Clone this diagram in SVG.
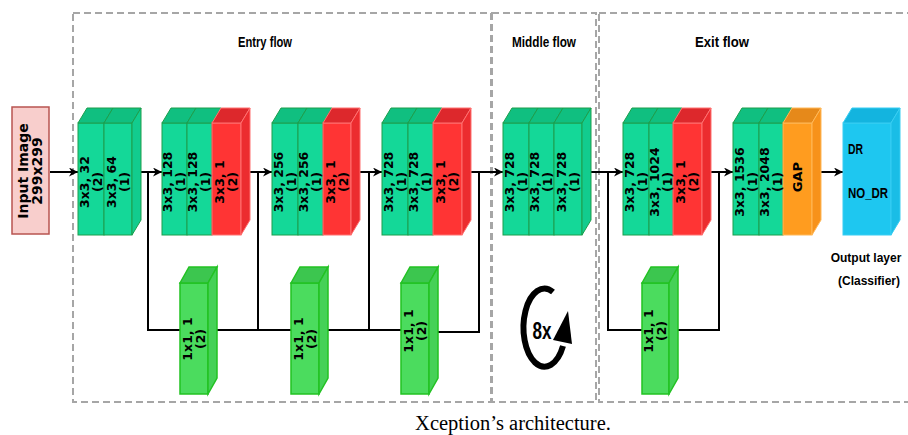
<svg xmlns="http://www.w3.org/2000/svg" width="908" height="435" viewBox="0 0 908 435">
<defs>
<marker id="ah" viewBox="0 0 10 10" refX="10" refY="5" markerWidth="9" markerHeight="9" markerUnits="userSpaceOnUse" orient="auto">
<path d="M0,0 L10,5 L0,10 L3,5 z" fill="#000"/>
</marker>
<style>
.dash{fill:none;stroke:#a6a6a6;stroke-width:2;stroke-dasharray:7 4}
.conn{fill:none;stroke:#000;stroke-width:2}
.arr{marker-end:url(#ah)}
.tf{fill:#14d898;stroke:#1d9e4c;stroke-width:1}
.tt{fill:#10bf80;stroke:#1d9e4c;stroke-width:1}
.ts{fill:#12cc8e;stroke:#1d9e4c;stroke-width:1}
.rf{fill:#ff3434;stroke:#ff7070;stroke-width:1}
.rt{fill:#dd282c;stroke:#ff7070;stroke-width:1}
.rs{fill:#ec2c2f;stroke:#ff7070;stroke-width:1}
.of{fill:#ff9c1f;stroke:#ffb858;stroke-width:1}
.ot{fill:#e6891a;stroke:#ffb858;stroke-width:1}
.os{fill:#f7921a;stroke:#ffb858;stroke-width:1}
.gf{fill:#4bdc5e;stroke:#22c222;stroke-width:1.5}
.gt{fill:#3cc64f;stroke:#22c222;stroke-width:1.5}
.gs{fill:#45d157;stroke:#22c222;stroke-width:1.5}
.cf{fill:#1ec7f0;stroke:#38cdf2;stroke-width:1}
.ct{fill:#13b4df;stroke:#38cdf2;stroke-width:1}
.cs{fill:#1abde6;stroke:#38cdf2;stroke-width:1}
.lbl{font-family:"DejaVu Sans",Verdana,sans-serif;font-weight:bold;font-size:12.5px;text-anchor:middle;fill:#000}
.nar{font-family:"Liberation Sans Narrow","Liberation Sans",Arial,sans-serif;font-weight:bold;font-size:14px;fill:#000}
.mid{text-anchor:middle}
</style>
</defs>
<rect width="908" height="435" fill="#fff"/>

<g id="frames">
<rect class="dash" x="73" y="13" width="418" height="389"/>
<rect class="dash" x="492" y="13" width="104" height="389"/>
<rect class="dash" x="599" y="13" width="330" height="389"/>
<text class="nar mid" x="265" y="47" textLength="54" lengthAdjust="spacingAndGlyphs">Entry flow</text>
<text class="nar mid" x="544" y="47" textLength="64" lengthAdjust="spacingAndGlyphs">Middle flow</text>
<text class="nar mid" x="722" y="47" textLength="54" lengthAdjust="spacingAndGlyphs">Exit flow</text>
</g>

<g id="connectors">
<path class="conn arr" d="M50,172 H78"/>
<path class="conn arr" d="M141,172 H162"/>
<path class="conn" d="M148,172 V330 H182"/>
<path class="conn" d="M217,330 H292 M258,330 V172"/>
<path class="conn arr" d="M250,172 H272"/>
<path class="conn" d="M328,330 H402 M369,330 V172"/>
<path class="conn arr" d="M360,172 H382"/>
<path class="conn" d="M438,332 H479 V172"/>
<path class="conn arr" d="M471,172 H503"/>
<path class="conn arr" d="M591,172 H623"/>
<path class="conn" d="M608,172 V330 H643"/>
<path class="conn" d="M678,330 H719 V172"/>
<path class="conn arr" d="M711,172 H733"/>
<path class="conn arr" d="M821,172 H843"/>
</g>

<g id="input">
<rect x="12" y="107" width="37" height="127" fill="#f8cecc" stroke="#b85450" stroke-width="1.5"/>
<text class="lbl" style="font-size:14px" transform="translate(29.5,171) rotate(-90)"><tspan x="0" y="-1.5">Input Image</tspan><tspan x="0" y="12.5">299x299</tspan></text>
</g>

<g id="block1">
<rect class="tf" x="78" y="123" width="26" height="112"/>
<polygon class="tt" points="78,123 87,108 113,108 104,123"/>
<rect class="tf" x="104" y="123" width="28" height="112"/>
<polygon class="tt" points="104,123 113,108 141,108 132,123"/>
<polygon class="ts" points="132,123 141,108 141,220 132,235"/>
<text class="lbl" transform="translate(91,182) rotate(-90)"><tspan x="0" y="-2.5">3x3, 32</tspan><tspan x="0" y="10.5">(2)</tspan></text>
<text class="lbl" transform="translate(118,182) rotate(-90)"><tspan x="0" y="-2.5">3x3, 64</tspan><tspan x="0" y="10.5">(1)</tspan></text>
</g>

<g id="block2">
<rect class="tf" x="162" y="123" width="25" height="112"/>
<polygon class="tt" points="162,123 171,108 196,108 187,123"/>
<rect class="tf" x="187" y="123" width="25" height="112"/>
<polygon class="tt" points="187,123 196,108 221,108 212,123"/>
<rect class="rf" x="212" y="123" width="29" height="112"/>
<polygon class="rt" points="212,123 221,108 250,108 241,123"/>
<polygon class="rs" points="241,123 250,108 250,220 241,235"/>
<text class="lbl" transform="translate(174.5,182) rotate(-90)"><tspan x="0" y="-2.5">3x3, 128</tspan><tspan x="0" y="10.5">(1)</tspan></text>
<text class="lbl" transform="translate(199.5,182) rotate(-90)"><tspan x="0" y="-2.5">3x3, 128</tspan><tspan x="0" y="10.5">(1)</tspan></text>
<text class="lbl" transform="translate(226.5,182) rotate(-90)"><tspan x="0" y="-2.5">3x3, 1</tspan><tspan x="0" y="10.5">(2)</tspan></text>
</g>

<g id="block3">
<rect class="tf" x="272" y="123" width="26" height="112"/>
<polygon class="tt" points="272,123 281,108 307,108 298,123"/>
<rect class="tf" x="298" y="123" width="25" height="112"/>
<polygon class="tt" points="298,123 307,108 332,108 323,123"/>
<rect class="rf" x="323" y="123" width="28" height="112"/>
<polygon class="rt" points="323,123 332,108 360,108 351,123"/>
<polygon class="rs" points="351,123 360,108 360,220 351,235"/>
<text class="lbl" transform="translate(285,182) rotate(-90)"><tspan x="0" y="-2.5">3x3, 256</tspan><tspan x="0" y="10.5">(1)</tspan></text>
<text class="lbl" transform="translate(310.5,182) rotate(-90)"><tspan x="0" y="-2.5">3x3, 256</tspan><tspan x="0" y="10.5">(1)</tspan></text>
<text class="lbl" transform="translate(337,182) rotate(-90)"><tspan x="0" y="-2.5">3x3, 1</tspan><tspan x="0" y="10.5">(2)</tspan></text>
</g>

<g id="block4">
<rect class="tf" x="382" y="123" width="26" height="112"/>
<polygon class="tt" points="382,123 391,108 417,108 408,123"/>
<rect class="tf" x="408" y="123" width="25" height="112"/>
<polygon class="tt" points="408,123 417,108 442,108 433,123"/>
<rect class="rf" x="433" y="123" width="29" height="112"/>
<polygon class="rt" points="433,123 442,108 471,108 462,123"/>
<polygon class="rs" points="462,123 471,108 471,220 462,235"/>
<text class="lbl" transform="translate(395,182) rotate(-90)"><tspan x="0" y="-2.5">3x3, 728</tspan><tspan x="0" y="10.5">(1)</tspan></text>
<text class="lbl" transform="translate(420.5,182) rotate(-90)"><tspan x="0" y="-2.5">3x3, 728</tspan><tspan x="0" y="10.5">(1)</tspan></text>
<text class="lbl" transform="translate(447.5,182) rotate(-90)"><tspan x="0" y="-2.5">3x3, 1</tspan><tspan x="0" y="10.5">(2)</tspan></text>
</g>

<g id="middle">
<rect class="tf" x="503" y="123" width="26" height="112"/>
<polygon class="tt" points="503,123 512,108 538,108 529,123"/>
<rect class="tf" x="529" y="123" width="25" height="112"/>
<polygon class="tt" points="529,123 538,108 563,108 554,123"/>
<rect class="tf" x="554" y="123" width="28" height="112"/>
<polygon class="tt" points="554,123 563,108 591,108 582,123"/>
<polygon class="ts" points="582,123 591,108 591,220 582,235"/>
<text class="lbl" transform="translate(516,182) rotate(-90)"><tspan x="0" y="-2.5">3x3, 728</tspan><tspan x="0" y="10.5">(1)</tspan></text>
<text class="lbl" transform="translate(541.5,182) rotate(-90)"><tspan x="0" y="-2.5">3x3, 728</tspan><tspan x="0" y="10.5">(1)</tspan></text>
<text class="lbl" transform="translate(568,182) rotate(-90)"><tspan x="0" y="-2.5">3x3, 728</tspan><tspan x="0" y="10.5">(1)</tspan></text>
</g>

<g id="exit1">
<rect class="tf" x="623" y="123" width="26" height="112"/>
<polygon class="tt" points="623,123 632,108 658,108 649,123"/>
<rect class="tf" x="649" y="123" width="24" height="112"/>
<polygon class="tt" points="649,123 658,108 682,108 673,123"/>
<rect class="rf" x="673" y="123" width="29" height="112"/>
<polygon class="rt" points="673,123 682,108 711,108 702,123"/>
<polygon class="rs" points="702,123 711,108 711,220 702,235"/>
<text class="lbl" transform="translate(636,182) rotate(-90)"><tspan x="0" y="-2.5">3x3, 728</tspan><tspan x="0" y="10.5">(1)</tspan></text>
<text class="lbl" transform="translate(661,182) rotate(-90)"><tspan x="0" y="-2.5">3x3, 1024</tspan><tspan x="0" y="10.5">(1)</tspan></text>
<text class="lbl" transform="translate(687.5,182) rotate(-90)"><tspan x="0" y="-2.5">3x3, 1</tspan><tspan x="0" y="10.5">(2)</tspan></text>
</g>

<g id="exit2">
<rect class="tf" x="733" y="123" width="26" height="112"/>
<polygon class="tt" points="733,123 742,108 768,108 759,123"/>
<rect class="tf" x="759" y="123" width="24" height="112"/>
<polygon class="tt" points="759,123 768,108 792,108 783,123"/>
<rect class="of" x="783" y="123" width="29" height="112"/>
<polygon class="ot" points="783,123 792,108 821,108 812,123"/>
<polygon class="os" points="812,123 821,108 821,220 812,235"/>
<text class="lbl" transform="translate(746,182) rotate(-90)"><tspan x="0" y="-2.5">3x3, 1536</tspan><tspan x="0" y="10.5">(1)</tspan></text>
<text class="lbl" transform="translate(771,182) rotate(-90)"><tspan x="0" y="-2.5">3x3, 2048</tspan><tspan x="0" y="10.5">(1)</tspan></text>
<text class="lbl" style="font-size:13px" transform="translate(797.5,177) rotate(-90)"><tspan x="0" y="4.5">GAP</tspan></text>
</g>

<g id="output">
<rect class="cf" x="843" y="123" width="48" height="112"/>
<polygon class="ct" points="843,123 852,108 900,108 891,123"/>
<polygon class="cs" points="891,123 900,108 900,220 891,235"/>
<text class="nar" x="848" y="154" textLength="15" lengthAdjust="spacingAndGlyphs">DR</text>
<text class="nar" x="848" y="198" textLength="40" lengthAdjust="spacingAndGlyphs">NO_DR</text>
<text class="nar mid" style="font-size:12px" x="866" y="262">Output layer</text>
<text class="nar mid" style="font-size:12px" x="869" y="285">(Classifier)</text>
</g>

<g id="skip1">
<rect class="gf" x="180" y="283" width="28" height="111"/>
<polygon class="gt" points="180,283 189,267 217,267 208,283"/>
<polygon class="gs" points="208,283 217,267 217,378 208,394"/>
<text class="lbl" transform="translate(194,339) rotate(-90)"><tspan x="0" y="-2.5">1x1, 1</tspan><tspan x="0" y="10.5">(2)</tspan></text>
</g>
<g id="skip2">
<rect class="gf" x="291" y="283" width="28" height="111"/>
<polygon class="gt" points="291,283 300,267 328,267 319,283"/>
<polygon class="gs" points="319,283 328,267 328,378 319,394"/>
<text class="lbl" transform="translate(305,339) rotate(-90)"><tspan x="0" y="-2.5">1x1, 1</tspan><tspan x="0" y="10.5">(2)</tspan></text>
</g>
<g id="skip3">
<rect class="gf" x="401" y="283" width="28" height="111"/>
<polygon class="gt" points="401,283 410,267 438,267 429,283"/>
<polygon class="gs" points="429,283 438,267 438,378 429,394"/>
<text class="lbl" transform="translate(415,331) rotate(-90)"><tspan x="0" y="-2.5">1x1, 1</tspan><tspan x="0" y="10.5">(2)</tspan></text>
</g>
<g id="skip4">
<rect class="gf" x="642" y="283" width="27" height="111"/>
<polygon class="gt" points="642,283 651,267 678,267 669,283"/>
<polygon class="gs" points="669,283 678,267 678,378 669,394"/>
<text class="lbl" transform="translate(655.5,331) rotate(-90)"><tspan x="0" y="-2.5">1x1, 1</tspan><tspan x="0" y="10.5">(2)</tspan></text>
</g>

<g id="repeat">
<path d="M553,292 A21 39 0 1 0 563,346" fill="none" stroke="#000" stroke-width="6"/>
<polygon points="568,311 553,340 572,344" fill="#000"/>
<text class="nar mid" style="font-size:24px" x="542" y="339" textLength="19" lengthAdjust="spacingAndGlyphs">8x</text>
</g>

<text x="513" y="430" font-family="'Liberation Serif','Times New Roman',serif" font-size="20.5" text-anchor="middle" fill="#000">Xception’s architecture.</text>
</svg>
